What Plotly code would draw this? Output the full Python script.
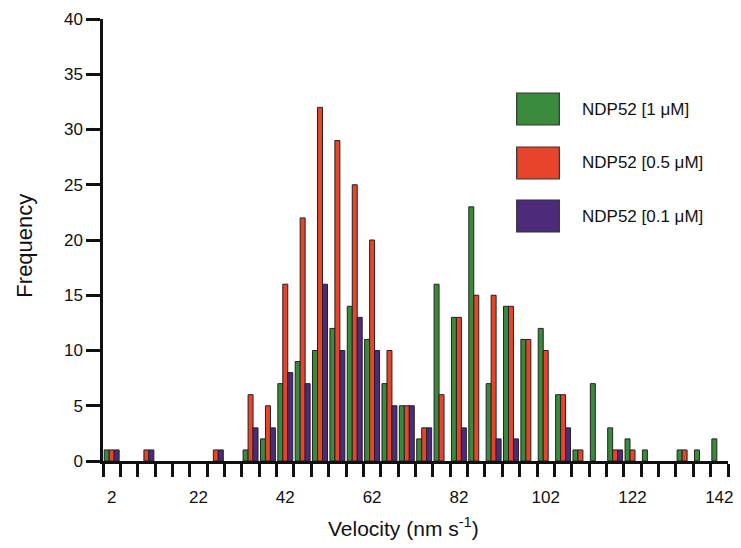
import plotly.graph_objects as go

# Data: histogram of velocities, bin width 4 nm/s, bins centered at 2..142
bin_centers = list(range(2, 143, 4))
green_1uM = [1, 0, 0, 0, 0, 0, 0, 0, 1, 2, 7, 9, 10, 12, 14, 11, 7, 5, 2, 16,
             13, 23, 7, 14, 11, 12, 6, 1, 7, 3, 2, 1, 0, 1, 1, 2]
red_05uM = [1, 0, 1, 0, 0, 0, 1, 0, 6, 5, 16, 22, 32, 29, 25, 20, 10, 5, 3, 6,
            13, 15, 15, 14, 11, 10, 6, 1, 0, 1, 1, 0, 0, 1, 0, 0]
purple_01uM = [1, 0, 1, 0, 0, 0, 1, 0, 3, 3, 8, 7, 16, 10, 13, 10, 5, 5, 3, 0,
               3, 0, 2, 2, 0, 0, 3, 0, 0, 1, 0, 0, 0, 0, 0, 0]
series_names = ["NDP52 [1 \u03bcM]", "NDP52 [0.5 \u03bcM]", "NDP52 [0.1 \u03bcM]"]
series_colors = ["#3A8A3C", "#E8432B", "#4E2A7A"]
bin_edges = list(range(0, 145, 4))
label_vals = list(range(2, 143, 20))
y_ticks = list(range(0, 41, 5))

W, H = 741, 548
L, R, T, B = 103, 8, 19, 87
pw, ph = W - L - R, H - T - B

def px(x):
    return (x - L) / pw

def py(y):
    return (H - B - y) / ph

fig = go.Figure()
for name, vals, col in zip(series_names, [green_1uM, red_05uM, purple_01uM], series_colors):
    fig.add_trace(go.Bar(x=bin_centers, y=[v if v else None for v in vals], name=name,
                         marker=dict(color=col, line=dict(color="#222222", width=1)),
                         showlegend=False))

FONT = "Liberation Sans, Arial, sans-serif"
fig.update_layout(
    width=W, height=H,
    margin=dict(l=L, r=R, t=T, b=B),
    plot_bgcolor="white", paper_bgcolor="white",
    barmode="group", bargap=0.14, bargroupgap=0,
    font=dict(family=FONT, size=17, color="#111111"),
    xaxis=dict(range=[0, 144], showgrid=False, zeroline=False,
               showline=True, linecolor="#111111", linewidth=2.5,
               tickmode="array", tickvals=label_vals,
               ticktext=[str(v) for v in label_vals],
               ticks="outside", ticklen=19, tickcolor="rgba(0,0,0,0)",
               tickfont=dict(size=17),
               minor=dict(tickmode="array", tickvals=bin_edges, ticks="outside",
                          ticklen=13, tickwidth=2.5, tickcolor="#111111")),
    yaxis=dict(range=[0, 40], showgrid=False, zeroline=False,
               showline=True, linecolor="#111111", linewidth=2.5,
               tickmode="array", tickvals=y_ticks,
               ticks="outside", ticklen=14, tickwidth=2.5, tickcolor="#111111",
               tickfont=dict(size=17)),
)

# Axis titles
fig.add_annotation(text="Velocity (nm s<sup>-1</sup>)", xref="paper", yref="paper",
                   x=px(406), y=py(527), showarrow=False,
                   font=dict(size=21, family=FONT), xanchor="center", yanchor="middle")
fig.add_annotation(text="Frequency", xref="paper", yref="paper",
                   x=px(24), y=py(246), showarrow=False, textangle=-90,
                   font=dict(size=22, family=FONT), xanchor="center", yanchor="middle")

# Custom legend with large swatches
legend_tops = [93, 147, 200]
for name, col, top in zip(series_names, series_colors, legend_tops):
    fig.add_shape(type="rect", xref="paper", yref="paper",
                  x0=px(520), x1=px(563), y0=py(top), y1=py(top + 32),
                  fillcolor=col, line=dict(color="#333333", width=1.2))
    fig.add_annotation(text=name, xref="paper", yref="paper",
                       x=px(584), y=py(top + 16), showarrow=False,
                       xanchor="left", yanchor="middle",
                       font=dict(size=17, family=FONT))

fig.write_html("out.html", config={"displayModeBar": False},
               post_script="document.body.style.margin='0';document.body.style.overflow='hidden';")
